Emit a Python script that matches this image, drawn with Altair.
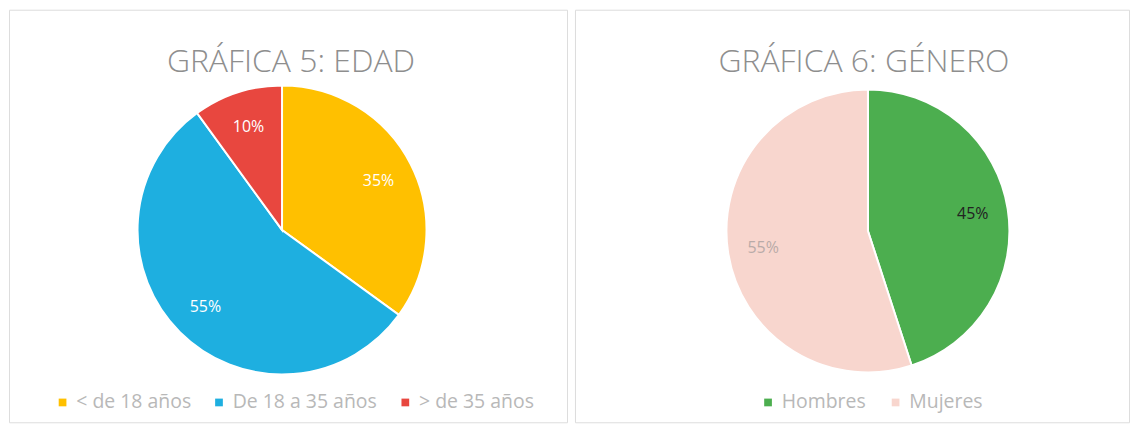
import altair as alt
import pandas as pd

# --- data ---
edad_cats = ["< de 18 años", "De 18 a 35 años", "> de 35 años"]
edad_vals = [35, 55, 10]
edad_colors = ["#FFC000", "#1EAFE0", "#E8473F"]
edad_label_colors = ["#FFFFFF", "#FFFFFF", "#FFFFFF"]

genero_cats = ["Hombres", "Mujeres"]
genero_vals = [45, 55]
genero_colors = ["#4CAE4F", "#F8D6CE"]
genero_label_colors = ["#222222", "#B9ABA8"]

titles = ["GRÁFICA 5: EDAD", "GRÁFICA 6: GÉNERO"]

FONT = "Open Sans"


def pie_panel(cats, vals, colors, label_colors, title, w, h, cx, cy, r, lx, ly, tx, colpad):
    df = pd.DataFrame({
        "cat": cats,
        "val": vals,
        "idx": list(range(len(cats))),
        "label": [f"{v}%" for v in vals],
        "lc": label_colors,
    })
    base = alt.Chart(df).encode(
        theta=alt.Theta("val:Q", stack=True),
        order=alt.Order("idx:Q"),
    )
    arcs = base.mark_arc(outerRadius=r, stroke="white", strokeWidth=2).encode(
        x=alt.value(cx),
        y=alt.value(cy),
        color=alt.Color(
            "cat:N",
            scale=alt.Scale(domain=cats, range=colors),
            sort=cats,
            legend=alt.Legend(
                title=None,
                orient="none",
                direction="horizontal",
                legendX=lx,
                legendY=ly,
                symbolType="square",
                symbolSize=60,
                symbolStrokeWidth=0,
                labelFont=FONT,
                labelFontSize=19.5,
                labelColor="#B8B8B8",
                columnPadding=colpad,
                labelOffset=4,
            ),
        ),
    )
    labels = base.mark_text(radius=r * 0.75, font=FONT, fontSize=16).encode(
        x=alt.value(cx),
        y=alt.value(cy),
        text="label:N",
        color=alt.Color("lc:N", scale=None),
    )
    ttl = alt.Chart(pd.DataFrame({"t": [title]})).mark_text(
        font=FONT, fontSize=32, fontWeight=300,
        color="#8E8E8E", align="center", baseline="middle"
    ).encode(x=alt.value(tx), y=alt.value(52), text="t:N")
    return alt.layer(arcs, labels, ttl).properties(width=w, height=h)


left = pie_panel(edad_cats, edad_vals, edad_colors, edad_label_colors, titles[0],
                 560, 414, 274, 221, 145, 44, 384, 283, 18)
right = pie_panel(genero_cats, genero_vals, genero_colors, genero_label_colors, titles[1],
                  556, 414, 294, 222, 142, 184, 384, 290, 20)

chart = alt.hconcat(left, right, spacing=6).resolve_scale(color="independent").properties(
    padding=0
).configure_view(stroke="#F0F0F0", strokeWidth=1).configure(background="white")

chart.save("out.html", embed_options={"renderer": "svg", "actions": False})
